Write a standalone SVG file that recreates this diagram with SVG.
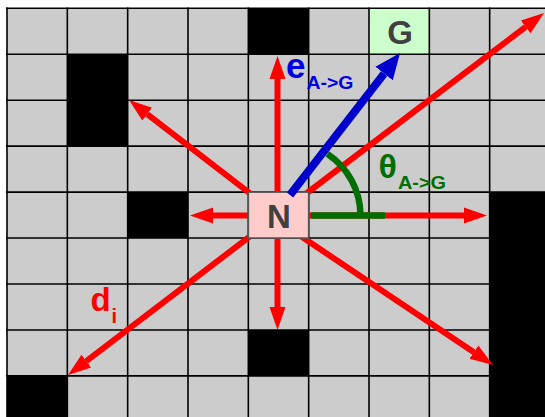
<svg xmlns="http://www.w3.org/2000/svg" width="545" height="417" viewBox="0 0 545 417">
<style>
.grid{stroke:#000;stroke-width:1.6;fill:none}
.wall{fill:#000}
.red{stroke:#ff0000;stroke-width:6;fill:none}
.lbl{font-family:"Liberation Sans",Arial,sans-serif;font-weight:bold}
</style>
<defs>
<marker id="rh" markerUnits="userSpaceOnUse" markerWidth="30" markerHeight="20" viewBox="0 -10 30 20" refX="0" refY="0" orient="auto">
<path d="M0,-8 L23,0 L0,8 z" fill="#ff0000"/>
</marker>
<marker id="bh" markerUnits="userSpaceOnUse" markerWidth="30" markerHeight="26" viewBox="0 -13 30 26" refX="0" refY="0" orient="auto">
<path d="M0,-11 L26,0 L0,11 z" fill="#0000cc"/>
</marker>
</defs>
<rect x="0" y="0" width="545" height="417" fill="#fff"/>
<rect x="7" y="8.3" width="538" height="409" fill="#cccccc"/>
<g id="cells">
<rect class="wall" x="248.33" y="8.3" width="60.34" height="45.95"/>
<rect class="wall" x="67.33" y="54.25" width="60.34" height="91.9"/>
<rect class="wall" x="127.67" y="192.1" width="60.33" height="45.95"/>
<rect class="wall" x="248.33" y="329.95" width="60.34" height="45.95"/>
<rect class="wall" x="7" y="375.9" width="60.33" height="41.1"/>
<rect class="wall" x="489.67" y="192.1" width="55.33" height="224.9"/>
</g>
<g id="goal">
<rect x="369" y="8.3" width="60.33" height="45.95" fill="#ccffcc"/>
</g>
<g id="gridlines" class="grid">
<path d="M7,7.5V417M67.33,7.5V417M127.67,7.5V417M188,7.5V417M248.33,7.5V417M308.67,7.5V417M369,7.5V417M429.33,7.5V417M489.67,7.5V417"/>
<path d="M6,8.3H545M6,54.25H545M6,100.2H545M6,146.15H545M6,192.1H545M6,238.05H545M6,284H545M6,329.95H545M6,375.9H545"/>
</g>
<g id="connectors">
<line class="red" x1="277.5" y1="215" x2="277.5" y2="79" marker-end="url(#rh)"/>
<line class="red" x1="277.5" y1="215" x2="277.5" y2="307" marker-end="url(#rh)"/>
<line class="red" x1="278" y1="215.5" x2="213" y2="215.5" marker-end="url(#rh)"/>
<line class="red" x1="278" y1="215.5" x2="464" y2="215.5" marker-end="url(#rh)"/>
<line class="red" x1="278" y1="215" x2="147.2" y2="114.05" marker-end="url(#rh)"/>
<line class="red" x1="278" y1="215" x2="525.7" y2="26.9" marker-end="url(#rh)"/>
<line class="red" x1="278" y1="215" x2="86.3" y2="361.1" marker-end="url(#rh)"/>
<line class="red" x1="292.4" y1="230.6" x2="473.9" y2="352.2" marker-end="url(#rh)"/>
</g>
<g id="N">
<rect x="248.33" y="192.1" width="60.34" height="45.95" fill="#ffcccc" stroke="#555" stroke-width="1.6"/>
<text class="lbl" x="279" y="227.5" font-size="33" fill="#404040" text-anchor="middle">N</text>
</g>
<g id="G">
<text class="lbl" x="400" y="44" font-size="33" fill="#404040" text-anchor="middle">G</text>
</g>
<g id="angle">
<path d="M311,215.5H385" stroke="#006e00" stroke-width="6.5" fill="none"/>
<path d="M360.5,215 A74,74 0 0 0 327.3,153.9" stroke="#006e00" stroke-width="6.5" fill="none"/>
</g>
<g id="edge">
<line x1="290" y1="195" x2="384.1" y2="73.6" stroke="#0000cc" stroke-width="8" marker-end="url(#bh)"/>
</g>
<g id="labels">
<text class="lbl" x="286" y="77.5" font-size="35" fill="#0000e0">e</text>
<text class="lbl" x="306.5" y="89" font-size="18" fill="#0000e0" textLength="47" lengthAdjust="spacingAndGlyphs">A-&gt;G</text>
<text class="lbl" x="378.5" y="177.5" font-size="34" fill="#006e00">θ</text>
<text class="lbl" x="398" y="189" font-size="19" fill="#006e00" textLength="48" lengthAdjust="spacingAndGlyphs">A-&gt;G</text>
<text class="lbl" x="90.5" y="310.5" font-size="33" fill="#ff0000">d</text>
<text class="lbl" x="111.5" y="322.5" font-size="20" fill="#ff0000">i</text>
</g>
</svg>
